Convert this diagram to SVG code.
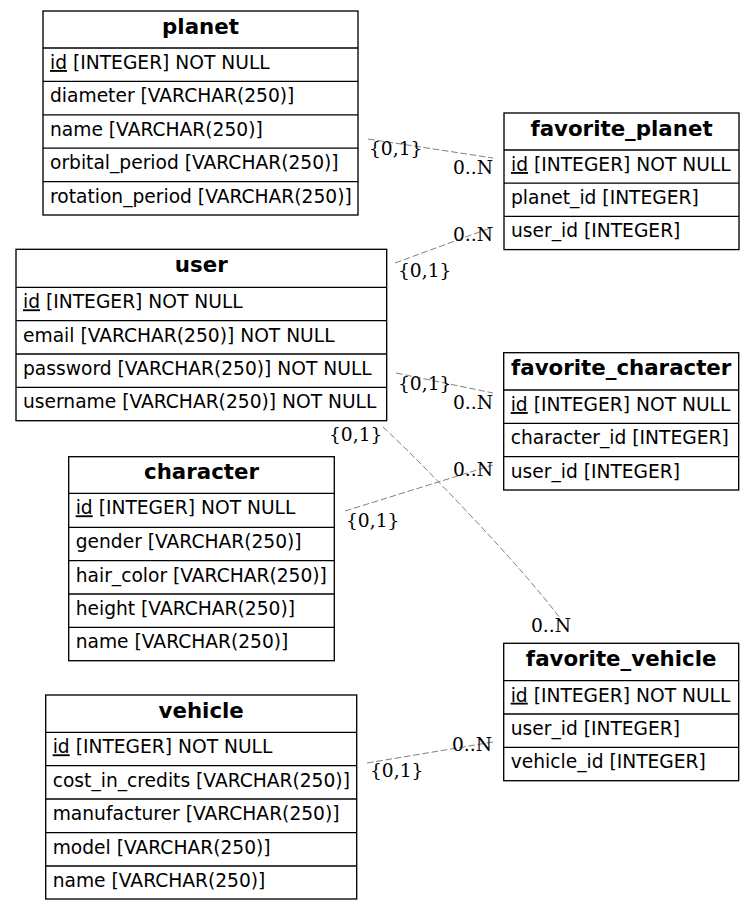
<svg xmlns="http://www.w3.org/2000/svg" width="755" height="909" viewBox="0 0 755 909">
<style>
.bg{fill:#ffffff}
.box{fill:none;stroke:#000;stroke-width:1.33}
.sep{stroke:#000;stroke-width:1.33}
.title{font-family:"DejaVu Sans",sans-serif;font-weight:bold;font-size:21.33px;text-anchor:middle;fill:#000}
.row{font-family:"DejaVu Sans",sans-serif;font-size:18.67px;fill:#000}
.edge{fill:none;stroke:#808080;stroke-width:1;stroke-dasharray:6.67,2.67}
.lbl{font-family:"DejaVu Serif",serif;font-size:18.67px;fill:#000}
.u{text-decoration:underline}
</style>
<rect class="bg" x="0" y="0" width="755" height="909"/>

<g id="connectors">
  <path class="edge" d="M368,139 L493,158"/>
  <text class="lbl" x="369" y="155">{0,1}</text>
  <text class="lbl" x="453" y="174">0..N</text>

  <path class="edge" d="M395,263 L493,227"/>
  <text class="lbl" x="453" y="241">0..N</text>
  <text class="lbl" x="398" y="277">{0,1}</text>

  <path class="edge" d="M396,373 L493,393"/>
  <text class="lbl" x="398" y="390">{0,1}</text>
  <text class="lbl" x="453" y="409">0..N</text>

  <path class="edge" d="M345,511 L493,465"/>
  <text class="lbl" x="453" y="476">0..N</text>
  <text class="lbl" x="346" y="527">{0,1}</text>

  <path class="edge" d="M383,427 C425,466 520,565 560,618"/>
  <text class="lbl" x="329" y="441">{0,1}</text>
  <text class="lbl" x="531" y="632">0..N</text>

  <path class="edge" d="M367,763 L493,742"/>
  <text class="lbl" x="452" y="751">0..N</text>
  <text class="lbl" x="370" y="777">{0,1}</text>
</g>

<g id="planet">
  <rect class="box" x="43" y="11" width="315" height="204"/>
  <line class="sep" x1="43" y1="48" x2="358" y2="48"/>
  <line class="sep" x1="43" y1="81.4" x2="358" y2="81.4"/>
  <line class="sep" x1="43" y1="114.8" x2="358" y2="114.8"/>
  <line class="sep" x1="43" y1="148.2" x2="358" y2="148.2"/>
  <line class="sep" x1="43" y1="181.6" x2="358" y2="181.6"/>
  <text class="title" x="200.5" y="33.5">planet</text>
  <text class="row" x="50" y="69"><tspan class="u">id</tspan> [INTEGER] NOT NULL</text>
  <text class="row" x="50" y="102.4">diameter [VARCHAR(250)]</text>
  <text class="row" x="50" y="135.8">name [VARCHAR(250)]</text>
  <text class="row" x="50" y="169.2">orbital_period [VARCHAR(250)]</text>
  <text class="row" x="50" y="202.6">rotation_period [VARCHAR(250)]</text>
</g>

<g id="favorite_planet">
  <rect class="box" x="504" y="113" width="235" height="136.6"/>
  <line class="sep" x1="504" y1="150" x2="739" y2="150"/>
  <line class="sep" x1="504" y1="183.2" x2="739" y2="183.2"/>
  <line class="sep" x1="504" y1="216.4" x2="739" y2="216.4"/>
  <text class="title" x="621.5" y="135.5">favorite_planet</text>
  <text class="row" x="511" y="171"><tspan class="u">id</tspan> [INTEGER] NOT NULL</text>
  <text class="row" x="511" y="204.2">planet_id [INTEGER]</text>
  <text class="row" x="511" y="237.4">user_id [INTEGER]</text>
</g>

<g id="user">
  <rect class="box" x="16" y="249.3" width="370.7" height="171.4"/>
  <line class="sep" x1="16" y1="287.3" x2="386.7" y2="287.3"/>
  <line class="sep" x1="16" y1="320.7" x2="386.7" y2="320.7"/>
  <line class="sep" x1="16" y1="354" x2="386.7" y2="354"/>
  <line class="sep" x1="16" y1="387.3" x2="386.7" y2="387.3"/>
  <text class="title" x="201.3" y="272">user</text>
  <text class="row" x="23" y="308.3"><tspan class="u">id</tspan> [INTEGER] NOT NULL</text>
  <text class="row" x="23" y="341.7">email [VARCHAR(250)] NOT NULL</text>
  <text class="row" x="23" y="375">password [VARCHAR(250)] NOT NULL</text>
  <text class="row" x="23" y="408.3">username [VARCHAR(250)] NOT NULL</text>
</g>

<g id="favorite_character">
  <rect class="box" x="503.7" y="352.7" width="235" height="137.3"/>
  <line class="sep" x1="503.7" y1="390" x2="738.7" y2="390"/>
  <line class="sep" x1="503.7" y1="423.3" x2="738.7" y2="423.3"/>
  <line class="sep" x1="503.7" y1="456.7" x2="738.7" y2="456.7"/>
  <text class="title" x="621.2" y="375.2">favorite_character</text>
  <text class="row" x="510.7" y="411"><tspan class="u">id</tspan> [INTEGER] NOT NULL</text>
  <text class="row" x="510.7" y="444.3">character_id [INTEGER]</text>
  <text class="row" x="510.7" y="477.7">user_id [INTEGER]</text>
</g>

<g id="character">
  <rect class="box" x="68.7" y="456.7" width="265.6" height="204"/>
  <line class="sep" x1="68.7" y1="493.3" x2="334.3" y2="493.3"/>
  <line class="sep" x1="68.7" y1="527.3" x2="334.3" y2="527.3"/>
  <line class="sep" x1="68.7" y1="560.7" x2="334.3" y2="560.7"/>
  <line class="sep" x1="68.7" y1="594" x2="334.3" y2="594"/>
  <line class="sep" x1="68.7" y1="627.3" x2="334.3" y2="627.3"/>
  <text class="title" x="201.5" y="479.2">character</text>
  <text class="row" x="75.7" y="514.3"><tspan class="u">id</tspan> [INTEGER] NOT NULL</text>
  <text class="row" x="75.7" y="548.3">gender [VARCHAR(250)]</text>
  <text class="row" x="75.7" y="581.7">hair_color [VARCHAR(250)]</text>
  <text class="row" x="75.7" y="615">height [VARCHAR(250)]</text>
  <text class="row" x="75.7" y="648.3">name [VARCHAR(250)]</text>
</g>

<g id="favorite_vehicle">
  <rect class="box" x="503.7" y="643.3" width="235" height="137.4"/>
  <line class="sep" x1="503.7" y1="680.7" x2="738.7" y2="680.7"/>
  <line class="sep" x1="503.7" y1="714" x2="738.7" y2="714"/>
  <line class="sep" x1="503.7" y1="747.3" x2="738.7" y2="747.3"/>
  <text class="title" x="621.2" y="665.8">favorite_vehicle</text>
  <text class="row" x="510.7" y="701.7"><tspan class="u">id</tspan> [INTEGER] NOT NULL</text>
  <text class="row" x="510.7" y="735">user_id [INTEGER]</text>
  <text class="row" x="510.7" y="768.3">vehicle_id [INTEGER]</text>
</g>

<g id="vehicle">
  <rect class="box" x="45.7" y="695" width="311" height="204"/>
  <line class="sep" x1="45.7" y1="732.3" x2="356.7" y2="732.3"/>
  <line class="sep" x1="45.7" y1="765.7" x2="356.7" y2="765.7"/>
  <line class="sep" x1="45.7" y1="799" x2="356.7" y2="799"/>
  <line class="sep" x1="45.7" y1="832.7" x2="356.7" y2="832.7"/>
  <line class="sep" x1="45.7" y1="866" x2="356.7" y2="866"/>
  <text class="title" x="201.2" y="717.5">vehicle</text>
  <text class="row" x="52.7" y="753.3"><tspan class="u">id</tspan> [INTEGER] NOT NULL</text>
  <text class="row" x="52.7" y="786.7">cost_in_credits [VARCHAR(250)]</text>
  <text class="row" x="52.7" y="820">manufacturer [VARCHAR(250)]</text>
  <text class="row" x="52.7" y="853.7">model [VARCHAR(250)]</text>
  <text class="row" x="52.7" y="887">name [VARCHAR(250)]</text>
</g>
</svg>
